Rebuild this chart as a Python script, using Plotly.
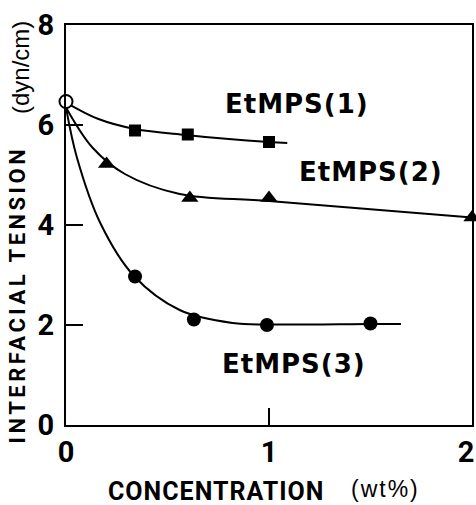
import plotly.graph_objects as go

# ---- data ----
blank_x = [0.0]
blank_y = [6.47]

s1_x = [0.34, 0.60, 1.0]
s1_y = [5.89, 5.81, 5.66]

s2_x = [0.20, 0.61, 1.0, 2.0]
s2_y = [5.22, 4.54, 4.54, 4.15]

s3_x = [0.34, 0.63, 0.99, 1.50]
s3_y = [2.97, 2.11, 2.00, 2.03]

# hand-drawn fit curves
fit1_x = [0.0, 0.16, 0.34, 0.59, 1.0, 1.09]
fit1_y = [6.45, 6.12, 5.92, 5.80, 5.66, 5.64]

fit2_x = [0.0, 0.13, 0.29, 0.56, 1.0, 2.0]
fit2_y = [6.35, 5.55, 5.02, 4.62, 4.48, 4.15]

fit3_x = [0.0, 0.053, 0.17, 0.335, 0.56, 0.82, 1.0, 1.5, 1.65]
fit3_y = [6.35, 5.36, 4.03, 2.98, 2.30, 2.04, 2.01, 2.02, 2.02]

x_ticks = [0, 1, 2]
x_ticktext = ["0", "1", '<span style="letter-spacing:12px">2</span>']
y_ticks = [0, 2, 4, 6, 8]

labels = ["EtMPS(1)", "EtMPS(2)", "EtMPS(3)"]
label_x = [0.773, 1.137, 0.758]
label_y = [6.42, 5.07, 1.22]

# ---- layout geometry ----
W, H = 476, 505
L, R, T, B = 66, 4, 25, 80
COND = "Roboto, Liberation Sans, sans-serif"
BOLD = "DejaVu Sans, Arial, sans-serif"
REG = "Liberation Sans, Arial, sans-serif"

def px2paper(px, py):
    return (px - L) / (W - L - R), (H - B - py) / (H - T - B)

fig = go.Figure()
line_style = dict(color="black", width=2, shape="spline", smoothing=1)
for fx, fy in [(fit1_x, fit1_y), (fit2_x, fit2_y), (fit3_x, fit3_y)]:
    fig.add_trace(go.Scatter(x=fx, y=fy, mode="lines", line=line_style,
                             hoverinfo="skip", showlegend=False, cliponaxis=False))

fig.add_trace(go.Scatter(x=s1_x, y=s1_y, mode="markers", cliponaxis=False, showlegend=False,
                         marker=dict(symbol="square", size=12, color="black")))
fig.add_trace(go.Scatter(x=s2_x, y=s2_y, mode="markers", cliponaxis=False, showlegend=False,
                         marker=dict(symbol="triangle-up", size=15, color="black")))
fig.add_trace(go.Scatter(x=s3_x, y=s3_y, mode="markers", cliponaxis=False, showlegend=False,
                         marker=dict(symbol="circle", size=14, color="black")))
fig.add_trace(go.Scatter(x=blank_x, y=blank_y, mode="markers", cliponaxis=False, showlegend=False,
                         marker=dict(symbol="circle", size=13, color="white",
                                     line=dict(color="black", width=2))))
# invisible trace to carry the tick-label axis
fig.add_trace(go.Scatter(x=[None], y=[None], yaxis="y2", showlegend=False, hoverinfo="skip"))

for t, lx, ly in zip(labels, label_x, label_y):
    fig.add_annotation(x=lx, y=ly, xref="x", yref="y", text=f'<span style="letter-spacing:1px">{t}</span>',
                       showarrow=False, xanchor="left", yanchor="middle",
                       font=dict(family=BOLD, size=26, color="black", weight="bold"))

# axis titles
ax, ay = px2paper(216, 491)
fig.add_annotation(x=ax, y=ay, xref="paper", yref="paper", showarrow=False,
                   text='<span style="letter-spacing:1px">CONCENTRATION</span>',
                   xanchor="center", yanchor="middle",
                   font=dict(family=COND, size=25, color="black", weight="bold"))
ax, ay = px2paper(385, 489)
fig.add_annotation(x=ax, y=ay, xref="paper", yref="paper", showarrow=False,
                   text='<span style="letter-spacing:2px">(wt%)</span>', xanchor="center", yanchor="middle",
                   font=dict(family=REG, size=23, color="black"))
ax, ay = px2paper(17, 294.5)
fig.add_annotation(x=ax, y=ay, xref="paper", yref="paper", showarrow=False, textangle=-90,
                   text='<span style="letter-spacing:3.5px">INTERFACIAL TENSION</span>',
                   xanchor="center", yanchor="middle",
                   font=dict(family=COND, size=22, color="black", weight="bold"))
ax, ay = px2paper(20, 68)
fig.add_annotation(x=ax, y=ay, xref="paper", yref="paper", showarrow=False, textangle=-90,
                   text="(dyn/cm)", xanchor="center", yanchor="middle",
                   font=dict(family=REG, size=24, color="black"))

tickfont = dict(family=COND, size=29, color="black", weight="bold")
axis_common = dict(showline=True, linecolor="black", linewidth=2, mirror=True,
                   ticks="inside", ticklen=17, tickwidth=2, tickcolor="black",
                   showgrid=False, zeroline=False, automargin=False)
fig.update_xaxes(range=[0, 2], tickvals=x_ticks, ticktext=x_ticktext,
                 ticklabelstandoff=0, ticklabeloverflow="allow", tickfont=tickfont, **axis_common)
fig.update_yaxes(range=[0, 8], tickvals=y_ticks, showticklabels=False, **axis_common)

fig.update_layout(
    width=W, height=H, margin=dict(l=L, r=R, t=T, b=B),
    paper_bgcolor="white", plot_bgcolor="white",
    yaxis2=dict(overlaying="y", anchor="free", position=0, side="left",
                range=[0, 8], tickvals=y_ticks, ticktext=[str(v) for v in y_ticks],
                showline=False, ticks="outside", ticklen=6, tickcolor="rgba(0,0,0,0)",
                showgrid=False, zeroline=False, automargin=False,
                ticklabeloverflow="allow", tickfont=tickfont),
)

fig.write_html("out.html")
